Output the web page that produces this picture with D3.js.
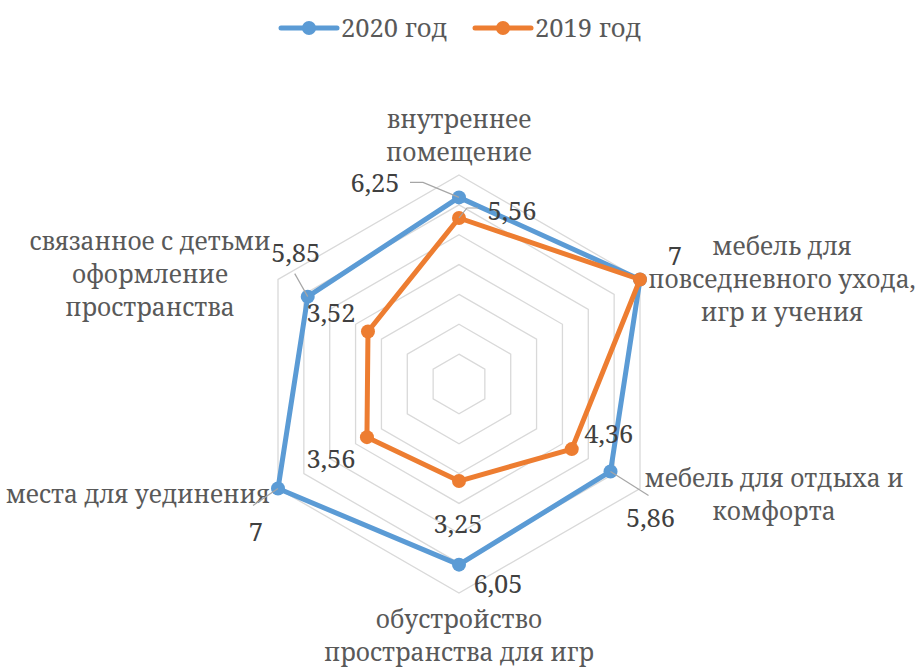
<!DOCTYPE html>
<html>
<head>
<meta charset="utf-8">
<script src="https://cdn.jsdelivr.net/npm/d3@7"></script>
<style>
  body { margin: 0; background: #fff; }
</style>
</head>
<body>
<svg id="chart" width="920" height="669"></svg>
<script>
// data
var categories = [
    ["внутреннее", "помещение"],
    ["мебель для", "повседневного ухода,", "игр и учения"],
    ["мебель для отдыха и", "комфорта"],
    ["обустройство", "пространства для игр"],
    ["места для уединения"],
    ["связанное с детьми", "оформление", "пространства"]
];
var seriesNames = ["2020 год", "2019 год"];
var values2020 = [6.25, 7, 5.86, 6.05, 7, 5.85];
var values2019 = [5.56, 7, 4.36, 3.25, 3.56, 3.52];
var ringTicks = [1, 2, 3, 4, 5, 6, 7];

var colors = ["#5b9bd5", "#ed7d31"];
// the serif that has Cyrillic and serif digits in this sandbox
var FONT = "'Noto Serif'";
var catSize = 24.5, numSize = 25.5;

// layout
var cx = 459, cy = 384, R = 209;
var svg = d3.select("#chart").style("font-family", FONT);

var r = d3.scaleLinear().domain([0, 7]).range([0, R]);
var angle = d3.scaleLinear().domain([0, categories.length]).range([0, 2 * Math.PI]);

function pt(i, v) {
    var a = angle(i) - Math.PI / 2;
    return [cx + r(v) * Math.cos(a), cy + r(v) * Math.sin(a)];
}

var g = svg.append("g");

// grid rings
ringTicks.forEach(function (t) {
    var pts = categories.map(function (c, i) { return pt(i, t); });
    g.append("polygon")
        .attr("points", pts.map(function (p) { return p.join(","); }).join(" "))
        .attr("fill", "none")
        .attr("stroke", "#d9d9d9")
        .attr("stroke-width", 1.3);
});

// category labels: [anchor, dx, dy of first baseline] relative to outer vertex
var catPos = [
    ["middle", 0, -47],
    ["middle", 142, -25],
    ["middle", 134, -2],
    ["middle", 0, 35],
    ["end", -8, 14],
    ["middle", -128, -30]
];
categories.forEach(function (lines, i) {
    var p = pt(i, 7);
    var t = g.append("text")
        .style("font-family", FONT)
        .attr("font-size", catSize)
        .attr("fill", "#595959")
        .attr("text-anchor", catPos[i][0]);
    lines.forEach(function (l, k) {
        t.append("tspan")
            .attr("x", p[0] + catPos[i][1])
            .attr("y", p[1] + catPos[i][2] + k * 33)
            .text(l);
    });
});

// series
var line = d3.line().curve(d3.curveLinearClosed);
[values2020, values2019].forEach(function (vals, s) {
    var pts = vals.map(function (v, i) { return pt(i, v); });
    g.append("path")
        .attr("d", line(pts))
        .attr("fill", "none")
        .attr("stroke", colors[s])
        .attr("stroke-width", 5)
        .attr("stroke-linejoin", "round");
    g.selectAll(null).data(pts).enter().append("circle")
        .attr("cx", function (d) { return d[0]; })
        .attr("cy", function (d) { return d[1]; })
        .attr("r", 7)
        .attr("fill", colors[s]);
});

// data labels offsets from their point [dx, dy baseline]
var labelPos = [
    [[-84, -5], [35, -15], [40, 56], [39, 28], [-22, 52], [-12, -35]],
    [[53, 2], [35, -15], [37, -6], [-1, 52], [-36, 31], [-37, -9]]
];
// leader lines, offsets from the point
var leaders = [
    [[[-36, -15], [-49, -15]], null, [[38, 24]], null, [[-25, 17]], [[-13, -23]]],
    [[[8, -10], [19, -10]], null, null, null, null, null]
];
var fmt = function (v) { return String(v).replace(".", ","); };

[values2020, values2019].forEach(function (vals, s) {
    vals.forEach(function (v, i) {
        var p = pt(i, v);
        // the 2019 label sits exactly under the 2020 one when both are equal
        if (s === 1 && v === values2020[i]) return;
        if (leaders[s][i]) {
            var lp = [p].concat(leaders[s][i].map(function (o) { return [p[0] + o[0], p[1] + o[1]]; }));
            g.append("path")
                .attr("d", d3.line()(lp))
                .attr("fill", "none")
                .attr("stroke", "#a6a6a6")
                .attr("stroke-width", 1.2);
        }
        g.append("text")
            .attr("x", p[0] + labelPos[s][i][0])
            .attr("y", p[1] + labelPos[s][i][1])
            .style("font-family", FONT)
            .attr("font-size", numSize)
            .attr("fill", "#404040")
            .attr("text-anchor", "middle")
            .text(fmt(v));
    });
});

// legend
var legendX = [281, 475];
seriesNames.forEach(function (name, s) {
    var lg = svg.append("g").attr("transform", "translate(" + legendX[s] + ",28)");
    lg.append("line")
        .attr("x1", 0).attr("x2", 56)
        .attr("stroke", colors[s]).attr("stroke-width", 5)
        .attr("stroke-linecap", "round");
    lg.append("circle").attr("cx", 28).attr("r", 7).attr("fill", colors[s]);
    lg.append("text")
        .attr("x", 60).attr("y", 9)
        .style("font-family", FONT)
        .attr("font-size", numSize)
        .attr("fill", "#595959")
        .text(name);
});
</script>
</body>
</html>
